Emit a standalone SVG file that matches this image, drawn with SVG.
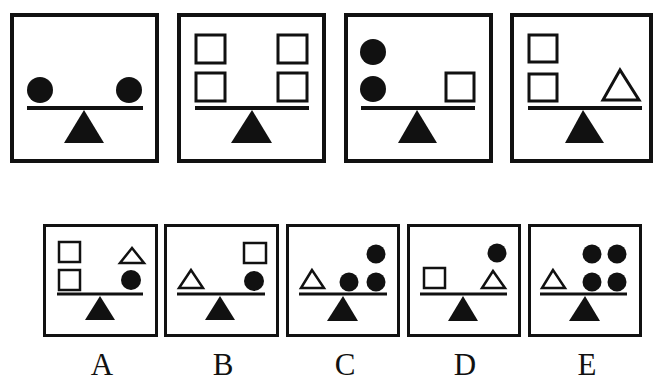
<svg xmlns="http://www.w3.org/2000/svg" width="654" height="384" viewBox="0 0 654 384">
<style>
.frame{fill:#fff;stroke:#111;stroke-width:4}
.frame-s{fill:#fff;stroke:#111;stroke-width:3}
.beam{stroke:#111;stroke-width:4;fill:none}
.beam-s{stroke:#111;stroke-width:3;fill:none}
.dot{fill:#111}
.sq{fill:none;stroke:#111;stroke-width:3}
.sq-s{fill:none;stroke:#111;stroke-width:2.5}
.otri{fill:none;stroke:#111;stroke-width:3;stroke-linejoin:miter}
.otri-s{fill:none;stroke:#111;stroke-width:2.5}
.ful{fill:#111}
.lbl{font-family:"Liberation Serif","DejaVu Serif",serif;font-size:31px;fill:#111;text-anchor:middle}
</style>
<rect width="654" height="384" fill="#fff"/>

<g id="q1">
<rect class="frame" x="12" y="15" width="145" height="146"/>
<circle class="dot" cx="40" cy="90" r="13"/>
<circle class="dot" cx="129" cy="90" r="13"/>
<line class="beam" x1="27" y1="108" x2="143" y2="108"/>
<polygon class="ful" points="84,110 64,143 104,143"/>
</g>

<g id="q2">
<rect class="frame" x="179" y="15" width="145" height="146"/>
<rect class="sq" x="196" y="35" width="29" height="28"/>
<rect class="sq" x="196" y="73" width="29" height="28"/>
<rect class="sq" x="278" y="35" width="29" height="28"/>
<rect class="sq" x="278" y="73" width="29" height="28"/>
<line class="beam" x1="195" y1="108" x2="309" y2="108"/>
<polygon class="ful" points="252,110 231,143 272,143"/>
</g>

<g id="q3">
<rect class="frame" x="346" y="15" width="145" height="146"/>
<circle class="dot" cx="373" cy="52" r="13"/>
<circle class="dot" cx="373" cy="89" r="13"/>
<rect class="sq" x="446" y="73" width="28" height="28"/>
<line class="beam" x1="361" y1="108" x2="475" y2="108"/>
<polygon class="ful" points="417,110 398,143 437,143"/>
</g>

<g id="q4">
<rect class="frame" x="512" y="15" width="139" height="146"/>
<rect class="sq" x="529" y="35" width="28" height="27"/>
<rect class="sq" x="529" y="74" width="28" height="27"/>
<polygon class="otri" points="620,70 603,100 639,100"/>
<line class="beam" x1="528" y1="108" x2="642" y2="108"/>
<polygon class="ful" points="583,110 565,143 604,143"/>
</g>

<g id="optA">
<rect class="frame-s" x="44.5" y="225.5" width="112" height="110"/>
<rect class="sq-s" x="59" y="242" width="21" height="20"/>
<rect class="sq-s" x="59" y="270" width="21" height="20"/>
<polygon class="otri-s" points="132,248 120,263 144,263"/>
<circle class="dot" cx="131" cy="280" r="10"/>
<line class="beam-s" x1="57" y1="294" x2="143" y2="294"/>
<polygon class="ful" points="100,296 85,320 115,320"/>
</g>

<g id="optB">
<rect class="frame-s" x="165.5" y="225.5" width="112" height="110"/>
<rect class="sq-s" x="244" y="243" width="22" height="20"/>
<polygon class="otri-s" points="191,270 179,288 203,288"/>
<circle class="dot" cx="254" cy="281" r="10"/>
<line class="beam-s" x1="177" y1="294" x2="265" y2="294"/>
<polygon class="ful" points="220,296 205,320 235,320"/>
</g>

<g id="optC">
<rect class="frame-s" x="287.5" y="225.5" width="111" height="110"/>
<polygon class="otri-s" points="312,270 301,288 324,288"/>
<circle class="dot" cx="349" cy="282" r="9.5"/>
<circle class="dot" cx="376" cy="282" r="9.5"/>
<circle class="dot" cx="376" cy="254" r="9.5"/>
<line class="beam-s" x1="299" y1="294" x2="387" y2="294"/>
<polygon class="ful" points="343,296 327,321 358,321"/>
</g>

<g id="optD">
<rect class="frame-s" x="408.5" y="225.5" width="111" height="110"/>
<rect class="sq-s" x="424" y="268" width="21" height="20"/>
<polygon class="otri-s" points="493,271 482,288 505,288"/>
<circle class="dot" cx="497" cy="253" r="9.5"/>
<line class="beam-s" x1="420" y1="294" x2="507" y2="294"/>
<polygon class="ful" points="463,296 448,321 478,321"/>
</g>

<g id="optE">
<rect class="frame-s" x="529.5" y="225.5" width="111" height="110"/>
<polygon class="otri-s" points="553,270 542,288 565,288"/>
<circle class="dot" cx="592" cy="254" r="9.5"/>
<circle class="dot" cx="617" cy="254" r="9.5"/>
<circle class="dot" cx="592" cy="282" r="9.5"/>
<circle class="dot" cx="617" cy="282" r="9.5"/>
<line class="beam-s" x1="540" y1="294" x2="627" y2="294"/>
<polygon class="ful" points="585,296 569,321 600,321"/>
</g>

<g id="labels">
<text class="lbl" x="102" y="375">A</text>
<text class="lbl" x="223" y="375">B</text>
<text class="lbl" x="345" y="375">C</text>
<text class="lbl" x="465" y="375">D</text>
<text class="lbl" x="587" y="375">E</text>
</g>
</svg>
